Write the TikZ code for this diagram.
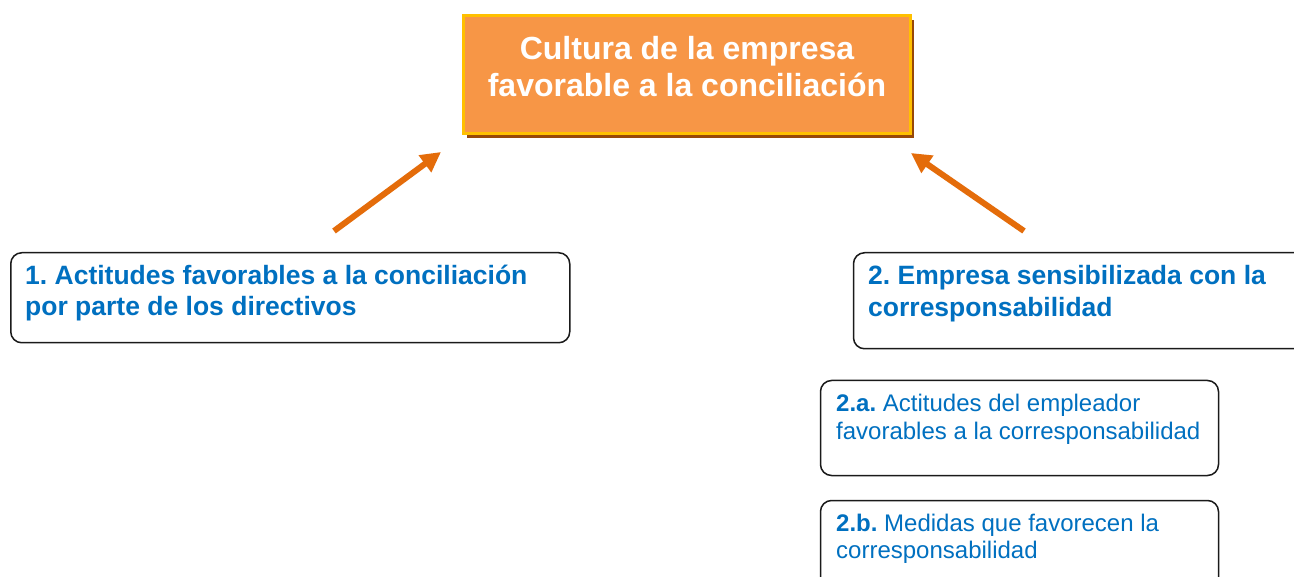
\documentclass[tikz,border=0pt]{standalone}
\usepackage{fontspec}
\setmainfont{Liberation Sans}
\usetikzlibrary{arrows.meta,shadows}
\definecolor{boxorange}{HTML}{F79646}
\definecolor{boxgold}{HTML}{FFC000}
\definecolor{shadowbrown}{HTML}{984807}
\definecolor{arroworange}{HTML}{E46C0A}
\definecolor{textblue}{HTML}{0070C0}
\definecolor{edgegray}{HTML}{1A1A1A}
\frenchspacing
\begin{document}
\begin{tikzpicture}[x=1pt,y=-1pt,
  mainbox/.style={draw=boxgold, line width=3pt, fill=boxorange, inner sep=0pt,
    drop shadow={shadow xshift=3pt, shadow yshift=-5pt, fill=shadowbrown, opacity=1}},
  outlinebox/.style={draw=edgegray, line width=1.5pt, rounded corners=11pt, fill=white, inner sep=0pt, anchor=north west},
  titletext/.style={anchor=base, inner sep=0pt, text=white, font=\fontsize{32}{38}\selectfont\bfseries},
  headtext/.style={anchor=base west, inner sep=0pt, text=textblue, font=\fontsize{26.5}{32}\selectfont\bfseries},
  subtext/.style={anchor=base west, inner sep=0pt, text=textblue, font=\fontsize{24}{28}\selectfont},
  bigarrow/.style={draw=arroworange, line width=6pt, -{Triangle[length=20pt,width=20pt]}}
]
\clip (0,0) rectangle (1294,577);
\fill[white] (0,0) rectangle (1294,577);

% main box
\node[mainbox, minimum width=447pt, minimum height=118pt] (main) at (687,74.5) {};
\node[titletext] (m1) at (687,60) {Cultura de la empresa};
\node[titletext] (m2) at (687,97) {favorable a la conciliación};

% box 1
\node[outlinebox, minimum width=559pt, minimum height=90pt] (b1) at (10,252) {};
\node[headtext] (b1l1) at (25,285) {1. Actitudes favorables a la conciliación};
\node[headtext] (b1l2) at (25,316) {por parte de los directivos};

% box 2
\node[outlinebox, minimum width=470pt, minimum height=96pt] (b2) at (852.75,252) {};
\node[headtext] (b2l1) at (868,285) {2. Empresa sensibilizada con la};
\node[headtext] (b2l2) at (868,317) {corresponsabilidad};

% box 2a
\node[outlinebox, minimum width=398pt, minimum height=95pt] (b2a) at (819.75,379.75) {};
\node[subtext] (b2al1) at (836,411) {\textbf{2.a.} Actitudes del empleador};
\node[subtext] (b2al2) at (836,439) {favorables a la corresponsabilidad};

% box 2b
\node[outlinebox, minimum width=398pt, minimum height=110pt] (b2b) at (819.75,499.75) {};
\node[subtext] (b2bl1) at (836,531) {\textbf{2.b.} Medidas que favorecen la};
\node[subtext] (b2bl2) at (836,558) {corresponsabilidad};

% arrows
\coordinate (a1s) at (334,231);
\coordinate (a1e) at (441,152);
\coordinate (a2s) at (1024,231);
\coordinate (a2e) at (911,153);
\draw[bigarrow] (a1s) -- (a1e);
\draw[bigarrow] (a2s) -- (a2e);
\end{tikzpicture}
\end{document}
